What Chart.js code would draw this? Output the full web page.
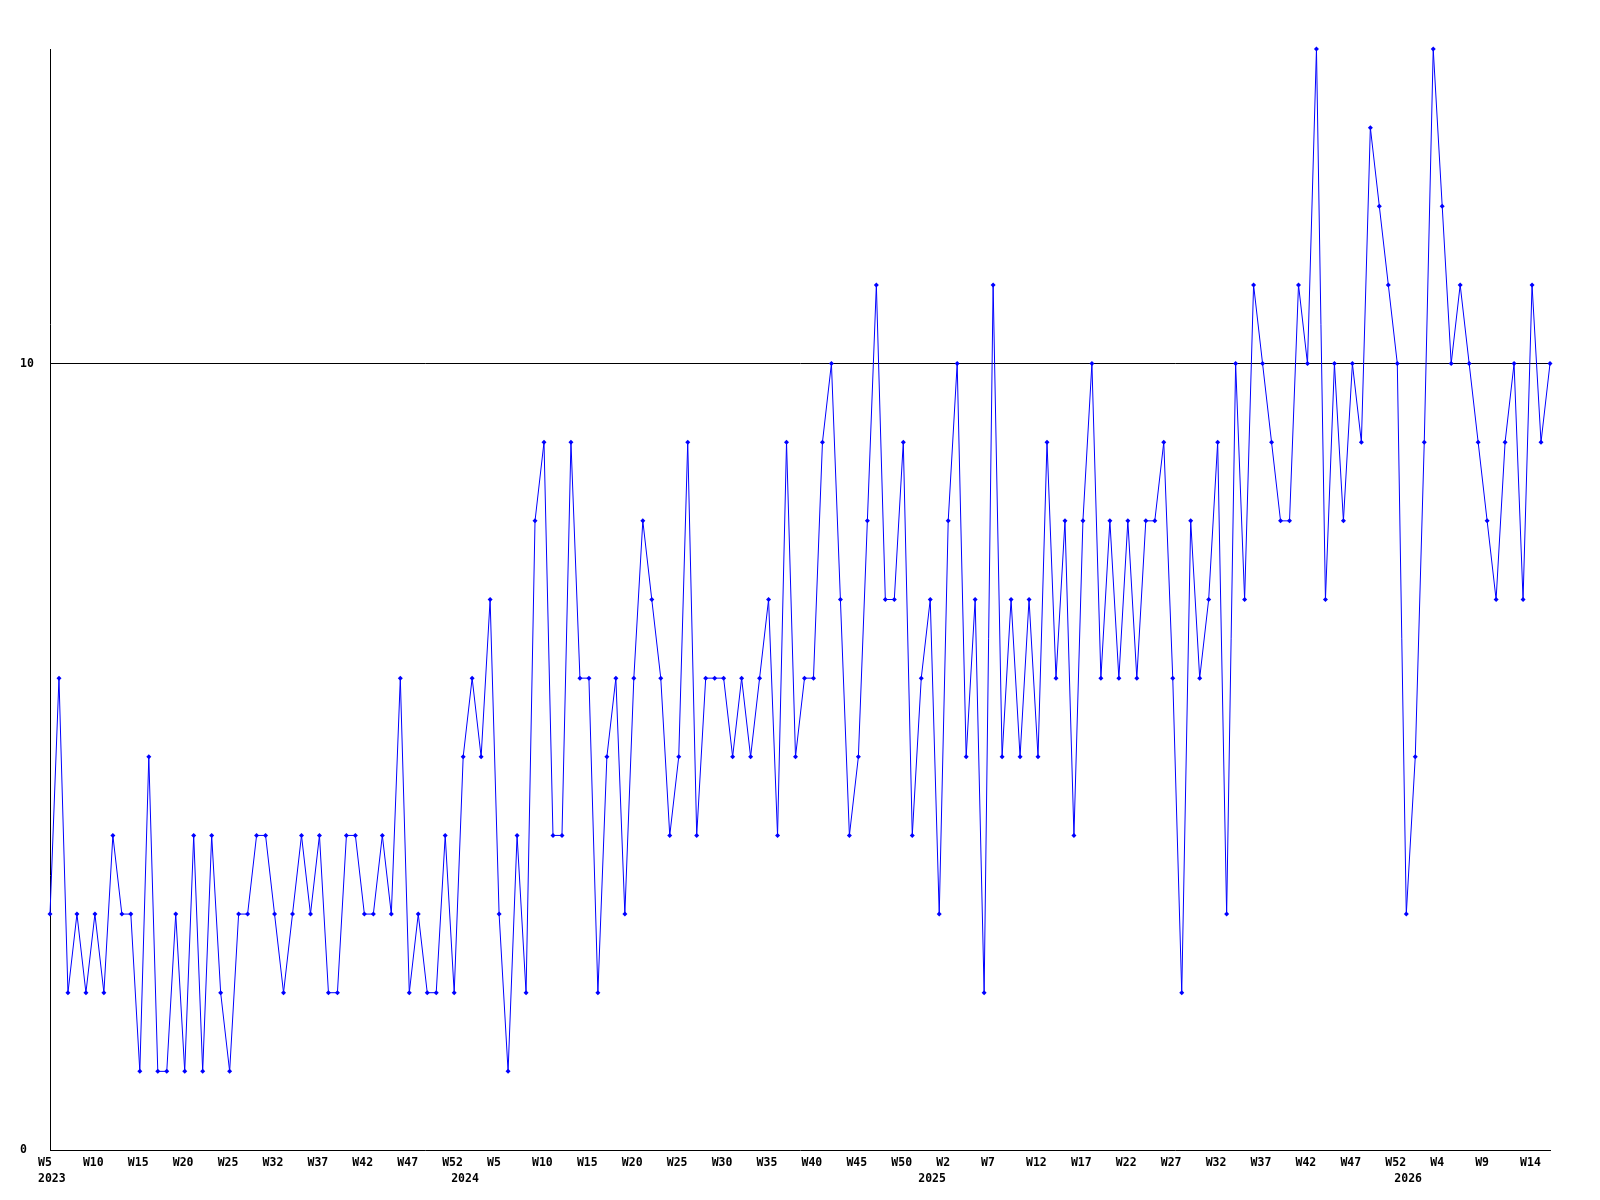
<!DOCTYPE html>
<html lang="en">

<head>
    <meta charset="UTF-8">
    <title>Contagem semanal</title>
    <style>
        body { margin: 0; background: #ffffff; }
    </style>
</head>

<body>
    <canvas id="grafico_semanal" width="1600" height="1200"></canvas>

    <script src="https://cdn.jsdelivr.net/npm/chart.js"></script>
    <script>
        // one value per week, 2023 W5 .. 2026 W15
        const contagens = [
            3, 6, 2, 3, 2, 3, 2, 4, 3, 3, 1, 5, 1, 1, 3, 1, 4, 1, 4, 2, 1, 3, 3, 4, 4, 3, 2, 3, 4, 3,
            4, 2, 2, 4, 4, 3, 3, 4, 3, 6, 2, 3, 2, 2, 4, 2, 5, 6, 5, 7, 3, 1, 4, 2, 8, 9, 4, 4, 9,
            6, 6, 2, 5, 6, 3, 6, 8, 7, 6, 4, 5, 9, 4, 6, 6, 6, 5, 6, 5, 6, 7, 4, 9, 5, 6, 6, 9,
            10, 7, 4, 5, 8, 11, 7, 7, 9, 4, 6, 7, 3, 8, 10, 5, 7, 2, 11, 5, 7, 5, 7, 5, 9, 6, 8, 4, 8,
            10, 6, 8, 6, 8, 6, 8, 8, 9, 6, 2, 8, 6, 7, 9, 3, 10, 7, 11, 10, 9, 8, 8, 11, 10, 14, 7, 10, 8,
            10, 9, 13, 12, 11, 10, 3, 5, 9, 14, 12, 10, 11, 10, 9, 8, 7, 9, 10, 7, 11, 9, 10
        ];

        // week label on every 5th point
        const semanas = [
            'W5', 'W10', 'W15', 'W20', 'W25', 'W32', 'W37', 'W42', 'W47', 'W52',
            'W5', 'W10', 'W15', 'W20', 'W25', 'W30', 'W35', 'W40', 'W45', 'W50',
            'W2', 'W7', 'W12', 'W17', 'W22', 'W27', 'W32', 'W37', 'W42', 'W47', 'W52',
            'W4', 'W9', 'W14'
        ];

        // first point of each year
        const anosPosicao = [0, 46, 98, 151];
        const anosNome = ['2023', '2024', '2025', '2026'];

        const yTicks = [0, 10];

        const fonte = { family: "'DejaVu Sans Mono', monospace", size: 11.5, weight: 'bold', lineHeight: 1.38 };

        const categorias = contagens.map((_, posicao) => posicao);

        new Chart(document.getElementById('grafico_semanal'), {
            type: 'line',
            data: {
                labels: categorias,
                datasets: [{
                    data: contagens,
                    borderColor: '#0000ff',
                    borderWidth: 1,
                    tension: 0,
                    pointStyle: 'rectRot',
                    pointRadius: 2.5,
                    pointBackgroundColor: '#0000ff',
                    pointBorderWidth: 0,
                    clip: false
                }]
            },
            options: {
                responsive: false,
                animation: false,
                layout: { padding: { left: 20, top: 49, right: 50, bottom: 0 } },
                plugins: { legend: { display: false }, tooltip: { enabled: false } },
                scales: {
                    x: {
                        offset: false,
                        grid: { display: false, drawTicks: false },
                        border: { display: true, color: '#000000', width: 1 },
                        afterFit: (escala) => { escala.height = 50; },
                        ticks: {
                            autoSkip: false,
                            maxRotation: 0,
                            minRotation: 0,
                            align: 'start',
                            labelOffset: -12,
                            padding: 5,
                            color: '#000000',
                            font: fonte,
                            callback: function (valor, indice) {
                                const semana = indice % 5 === 0 ? (semanas[indice / 5] || '') : '';
                                const p = anosPosicao.indexOf(indice);
                                const ano = p >= 0 ? anosNome[p] : '';
                                return [semana, ano];
                            }
                        }
                    },
                    y: {
                        min: 0,
                        max: 14,
                        afterBuildTicks: (escala) => { escala.ticks = yTicks.map(v => ({ value: v })); },
                        afterFit: (escala) => { escala.width = 30; },
                        grid: {
                            drawTicks: false,
                            color: (ctx) => (ctx.tick && ctx.tick.value === 10) ? '#000000' : 'rgba(0,0,0,0)',
                            lineWidth: 1
                        },
                        border: { display: true, color: '#000000', width: 1 },
                        ticks: {
                            crossAlign: 'far',
                            padding: 0,
                            color: '#000000',
                            font: fonte
                        }
                    }
                }
            }
        });
    </script>
</body>

</html>
